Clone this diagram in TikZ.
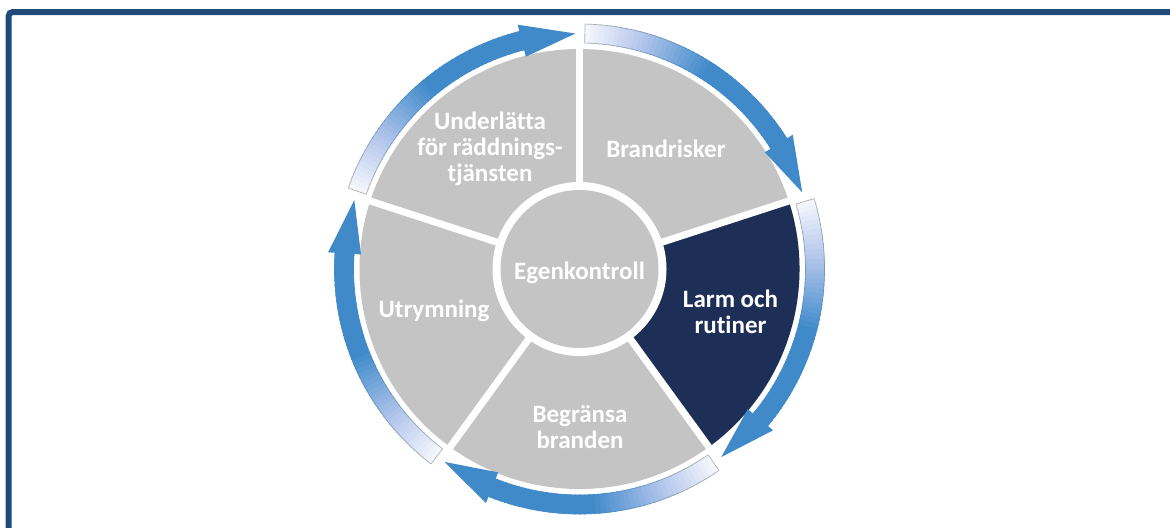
\documentclass[tikz,border=0pt]{standalone}
\usepackage{fontspec}
\setmainfont{Carlito}[Ligatures={NoCommon}]
\definecolor{frameblue}{RGB}{31,74,122}
\definecolor{segGray}{RGB}{196,196,196}
\definecolor{navy}{RGB}{30,47,87}
\definecolor{arrowBlue}{RGB}{64,138,202}
\definecolor{lavBlue}{RGB}{180,198,236}
\definecolor{tailWhite}{RGB}{246,248,253}
\definecolor{edgeGray}{RGB}{178,178,178}
\begin{document}
\begin{tikzpicture}[x=0.5pt,y=0.5pt,
  lbl/.style={font=\fontsize{12.5}{13}\selectfont\bfseries, text=white, align=center, inner sep=0pt},
  divider/.style={white, line width=3.5pt}]
\useasboundingbox (0,0) rectangle (1170,527);
\clip (0,0) rectangle (1170,527);
\fill[white] (0,0) rectangle (1170,527);
% frame
\draw[frameblue, line width=3pt, rounded corners=2pt] (8.7,515) rectangle (1200,-40);
\begin{scope}[shift={(579.5,258)}]
  % segments
  \fill[segGray] (0,0) circle[radius=220];
  \fill[navy] (0,0) -- (18:220) arc[start angle=18, end angle=-54, radius=220] -- cycle;
  \foreach \a in {90,18,-54,-126,162} \draw[divider] (0,0) -- (\a:224);
  % centre circle
  \fill[white] (0,0) circle[radius=87];
  \fill[segGray] (0,0) circle[radius=79];
  % circular arrows
  \foreach \d in {90,18,-54,-126,-198} {
    \pgfmathsetmacro\ta{\d-1.3}
    \pgfmathsetmacro\hb{\ta-57}
    \pgfmathsetmacro\tip{\ta-69.7}
    \foreach \k in {0,...,47} {
      \pgfmathsetmacro\aone{\ta-57*\k/48}
      \pgfmathsetmacro\atwo{\ta-57*(\k+1)/48-0.4}
      \pgfmathsetmacro\tt{(\k+0.5)/48*57/69.7}
      \pgfmathsetmacro\pa{min(100,100*\tt/0.2)}
      \pgfmathsetmacro\pb{max(0,min(100,100*(\tt-0.2)/0.25))}
      \pgfmathsetmacro\pc{min(100,100*\tt/0.42)}
      \fill[arrowBlue!\pb!lavBlue!\pa!tailWhite] (\aone:226) arc[start angle=\aone, end angle=\atwo, radius=226]
        -- (\atwo:245) arc[start angle=\atwo, end angle=\aone, radius=245] -- cycle;
      \draw[arrowBlue!\pc!edgeGray, line width=0.35pt] (\aone:226) arc[start angle=\aone, end angle=\atwo, radius=226];
      \draw[arrowBlue!\pc!edgeGray, line width=0.35pt] (\aone:245) arc[start angle=\aone, end angle=\atwo, radius=245];
    }
    \fill[arrowBlue] (\hb+0.5:219) -- (\tip:235.5) -- (\hb+0.5:252) -- cycle;
    \draw[edgeGray, line width=0.35pt] (\ta:226) -- (\ta:245);
  }
\end{scope}
% labels
\node[lbl] (brand) at (666,378) {Brandrisker};
\node[lbl] (egen) at (579.5,254.5) {Egenkontroll};
\node[lbl] (utr) at (434,216) {Utrymning};
\node[lbl] (underl) at (490,378.5) {Underlätta\\för räddnings-\\tjänsten};
\node[lbl] (larm) at (730.5,215) {Larm och\\rutiner};
\node[lbl] (begr) at (580,100) {Begränsa\\branden};
\end{tikzpicture}
\end{document}
